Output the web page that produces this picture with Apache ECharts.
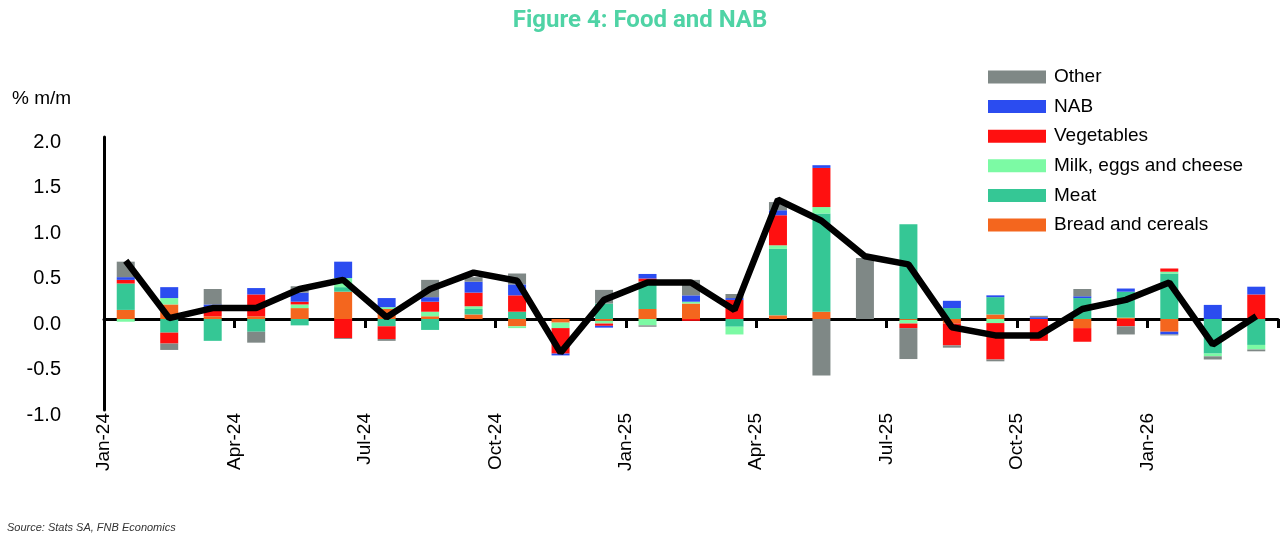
<!DOCTYPE html>
<html>
<head>
<meta charset="utf-8">
<title>Figure 4: Food and NAB</title>
<script src="https://cdn.jsdelivr.net/npm/echarts@6/dist/echarts.min.js"></script>
<style>
    html, body { margin: 0; padding: 0; background: #fff; }
    #chart { width: 1280px; height: 536px; }
</style>
</head>
<body>
<div id="chart"></div>
<script>
// months shown as bars
var months = ["Jan-24", "Feb-24", "Mar-24", "Apr-24", "May-24", "Jun-24", "Jul-24", "Aug-24", "Sep-24",
    "Oct-24", "Nov-24", "Dec-24", "Jan-25", "Feb-25", "Mar-25", "Apr-25", "May-25", "Jun-25",
    "Jul-25", "Aug-25", "Sep-25", "Oct-25", "Nov-25", "Dec-25", "Jan-26", "Feb-26", "Mar-26"];
// labels sit on the month boundaries (one more than months)
var tickLabels = months.concat(["Apr-26"]);

// contributions, % m/m
var bread = [0.10, 0.16, 0.03, 0.03, 0.12, 0.30, 0.11, 0.03, 0.05, -0.08, -0.04, -0.02, 0.11, 0.17, 0,
    0.04, 0.08, 0, -0.01, -0.05, 0.05, 0, -0.10, 0.015, -0.14, 0, 0];
var meat = [0.29, -0.15, -0.24, -0.14, -0.07, 0.05, -0.08, -0.12, 0.06, 0.08, 0, 0.17, 0.30, 0, -0.085,
    0.73, 1.08, 0, 1.04, 0.12, 0.19, 0, 0.23, 0.285, 0.50, -0.38, -0.285];
var milk = [-0.03, 0.07, 0, 0, 0.04, 0.10, 0.02, 0.05, 0.03, -0.02, -0.06, -0.03, -0.07, 0.02, -0.085,
    0.04, 0.07, 0, -0.04, 0, -0.045, 0, 0, 0, 0.02, -0.03, -0.05];
var vegetables = [0.04, -0.12, 0.09, 0.24, 0.03, -0.21, -0.14, 0.11, 0.15, 0.18, -0.28, -0.025, 0.035, -0.02, 0.21,
    0.33, 0.43, 0, -0.05, -0.24, -0.40, -0.24, -0.15, -0.08, 0.035, 0, 0.27];
var nab = [0.03, 0.12, 0.04, 0.07, 0.10, 0.18, 0.10, 0.05, 0.12, 0.12, -0.02, -0.02, 0.05, 0.07, 0.02,
    0.055, 0.03, 0, 0, 0.08, 0.02, 0.02, 0.02, 0.035, -0.03, 0.155, 0.085];
var other = [0.17, -0.07, 0.17, -0.12, 0.07, -0.01, -0.02, 0.19, 0.05, 0.12, 0, 0.15, -0.015, 0.17, 0.045,
    0.09, -0.62, 0.67, -0.34, -0.025, -0.02, 0.015, 0.08, -0.09, -0.01, -0.035, -0.02];
// headline food and NAB (line)
var total = [0.64, 0.01, 0.12, 0.12, 0.33, 0.43, 0.02, 0.33, 0.51, 0.42, -0.37, 0.21, 0.40, 0.40, 0.10,
    1.31, 1.08, 0.69, 0.60, -0.09, -0.18, -0.18, 0.11, 0.21, 0.40, -0.28, 0.03];

var font = "'Liberation Sans', Arial, sans-serif";

function barSeries(name, data, color) {
    return {
        name: name,
        type: "bar",
        stack: "food",
        xAxisIndex: 0,
        barWidth: 18,
        data: data,
        itemStyle: { color: color },
        emphasis: { disabled: true }
    };
}

var myChart = echarts.init(document.getElementById("chart"));

var option = {
    animation: false,
    backgroundColor: "#fff",
    title: [
        {
            text: "Figure 4: Food and NAB",
            left: "center",
            top: 4,
            textStyle: { color: "#4fd3a5", fontFamily: "Roboto, sans-serif", fontWeight: "bold", fontSize: 24 }
        },
        {
            text: "% m/m",
            left: 7,
            top: 84,
            textStyle: { color: "#000", fontFamily: font, fontWeight: "normal", fontSize: 19 }
        },
        {
            text: "Source: Stats SA, FNB Economics",
            left: 2,
            top: 517,
            textStyle: { color: "#333", fontFamily: font, fontStyle: "italic", fontWeight: "normal", fontSize: 11 }
        }
    ],
    legend: {
        orient: "vertical",
        left: 988,
        top: 67,
        padding: 0,
        icon: "rect",
        itemWidth: 58,
        itemHeight: 13,
        itemGap: 9.6,
        data: ["Other", "NAB", "Vegetables", "Milk, eggs and cheese", "Meat", "Bread and cereals"],
        textStyle: { color: "#000", fontFamily: font, fontSize: 19, lineHeight: 20, padding: [0, 0, 0, 3] }
    },
    grid: {
        left: 104,
        right: 2,
        top: 137,
        bottom: 126
    },
    xAxis: [
        {
            // axis line and ticks on zero
            type: "category",
            data: months,
            axisLine: { onZero: true, lineStyle: { color: "#000", width: 3 } },
            axisTick: { show: true, interval: 2, length: 9, lineStyle: { color: "#000", width: 3 } },
            axisLabel: { show: false },
            splitLine: { show: false }
        },
        {
            // labels at the bottom, on the month boundaries
            type: "category",
            data: tickLabels,
            position: "bottom",
            boundaryGap: false,
            axisLine: { show: false, onZero: false },
            axisTick: { show: false },
            axisLabel: {
                interval: 2,
                rotate: 90,
                margin: 3,
                color: "#000",
                fontFamily: font,
                fontSize: 19,
                formatter: function (v) {
                    return v === "Apr-26" ? "" : v;
                }
            },
            splitLine: { show: false }
        }
    ],
    yAxis: {
        type: "value",
        min: -1,
        max: 2,
        interval: 0.5,
        axisLine: { show: true, lineStyle: { color: "#000", width: 3 } },
        axisTick: { show: false },
        splitLine: { show: false },
        axisLabel: {
            margin: 43,
            color: "#000",
            fontFamily: font,
            fontSize: 20,
            lineHeight: 30,
            verticalAlign: "top",
            padding: [-10, 0, 0, 0],
            formatter: function (v) {
                return v.toFixed(1);
            }
        }
    },
    series: [
        barSeries("Bread and cereals", bread, "#f4661e"),
        barSeries("Meat", meat, "#35c795"),
        barSeries("Milk, eggs and cheese", milk, "#7cfaa4"),
        barSeries("Vegetables", vegetables, "#ff1010"),
        barSeries("NAB", nab, "#2b4cf0"),
        barSeries("Other", other, "#7f8886"),
        {
            name: "Food and NAB",
            type: "line",
            xAxisIndex: 0,
            data: total,
            symbol: "none",
            z: 10,
            lineStyle: { color: "#000", width: 6.5 },
            emphasis: { disabled: true }
        }
    ]
};

myChart.setOption(option);
</script>
</body>
</html>
